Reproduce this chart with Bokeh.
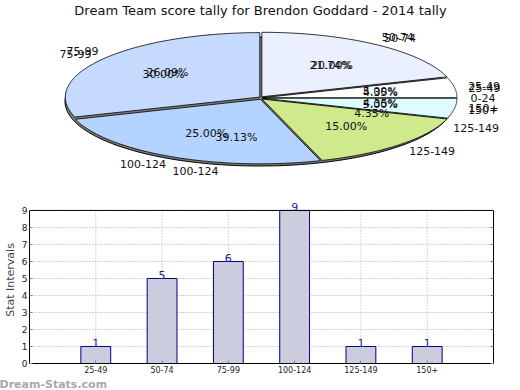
import numpy as np
from bokeh.plotting import figure
from bokeh.models import Range1d, ColumnDataSource, LinearAxis, FixedTicker, Label, LabelSet, Span, Title
from bokeh.layouts import column
from bokeh.embed import file_html
from bokeh.resources import INLINE
from bokeh.core.properties import value

# ---------------- data ----------------
chart_title = "Dream Team score tally for Brendon Goddard - 2014 tally"
pie_categories = ["0-24", "25-49", "50-74", "75-99", "100-124", "125-149", "150+"]
pie_front_percent = [0, 5, 20, 30, 25, 15, 5]      # series drawn on top
pie_back_counts = [0, 1, 5, 6, 9, 1, 1]            # series whose labels show through
pie_colors = ["#ffffff", "#ffffff", "#eaf0ff", "#c6d9ff", "#b5d3ff", "#d0e98d", "#dcfcff"]

bar_categories = ["25-49", "50-74", "75-99", "100-124", "125-149", "150+"]
bar_counts = [1, 5, 6, 9, 1, 1]
y_ticks = [0, 1, 2, 3, 4, 5, 6, 7, 8, 9]

FN = "DejaVu Sans"
FONT = value(FN)

# ---------------- pie (top) ----------------
W = 520
H1 = 192
H2 = 390 - H1
pie = figure(width=W, height=H1, x_range=Range1d(0, W), y_range=Range1d(H1, 0),
             output_backend="svg", toolbar_location=None, min_border=0,
             x_axis_location=None, y_axis_location=None)
pie.grid.visible = False
pie.outline_line_color = None
pie.background_fill_color = "white"
pie.frame_align = False

CX, CY, RX, RY = 260.5, 97.5, 194.5, 64.5
EXP = 1.5

pie.text(x=[W / 2], y=[10], text=[chart_title], text_align="center",
         text_baseline="middle", text_font_size="13px", text_font=FONT, text_color="#111111")

# 3D rim
t = np.radians(np.linspace(0, 360, 241))
pie.patch(CX - 1.5 + RX * np.cos(t), CY + 3.5 - RY * np.sin(t), fill_color="#7a7a7a",
          line_color="black", line_width=1)


def slice_geometry(values):
    vals = np.asarray(values, dtype=float)
    pct = vals / vals.sum() * 100.0
    ends = np.cumsum(pct) * 3.6
    starts = ends - pct * 3.6
    return pct, starts, ends


pct_f, st_f, en_f = slice_geometry(pie_front_percent)
xs_list, ys_list, cols = [], [], []
for i in range(len(pie_categories)):
    if pct_f[i] <= 0:
        continue
    mid = np.radians((st_f[i] + en_f[i]) / 2)
    ox, oy = EXP * np.cos(mid), -EXP * np.sin(mid)
    tt = np.radians(np.linspace(st_f[i], en_f[i], 80))
    xs_list.append(np.concatenate([[CX + ox], CX + ox + RX * np.cos(tt)]))
    ys_list.append(np.concatenate([[CY + oy], CY + oy - RY * np.sin(tt)]))
    cols.append(pie_colors[i])
pie.patches(xs_list, ys_list, fill_color=cols, line_color="black", line_width=0.8)


def add_pie_labels(values, skip_zero_cat):
    pct, st, en = slice_geometry(values)
    for i, cat in enumerate(pie_categories):
        mid = np.radians((st[i] + en[i]) / 2)
        c, s = np.cos(mid), np.sin(mid)
        if values[i] > 0:
            pie.text(x=[CX + 0.62 * RX * c], y=[CY - 0.62 * RY * s], text=["%.2f%%" % pct[i]],
                     text_align="center", text_baseline="middle", text_font_size="11px",
                     text_font=FONT, text_color="#111111")
        if values[i] == 0 and skip_zero_cat:
            continue
        align = "left" if c > 0.05 else ("right" if c < -0.05 else "center")
        pie.text(x=[CX + (RX + 15) * c], y=[CY - (RY + 10) * s], text=[cat],
                 text_align=align, text_baseline="middle", text_font_size="11px",
                 text_font=FONT, text_color="#111111")


add_pie_labels(pie_back_counts, True)
add_pie_labels(pie_front_percent, False)

# ---------------- bars (bottom) ----------------
xs = list(range(1, len(bar_categories) + 1))
y_top = y_ticks[-1]
bar = figure(width=W, height=H2, x_range=Range1d(0, len(bar_categories) + 1),
             y_range=Range1d(y_ticks[0], y_top + 0.82),
             output_backend="svg", toolbar_location=None,
             min_border_top=4, min_border_right=27, min_border_left=25, min_border_bottom=0)
bar.outline_line_color = None
bar.xgrid.visible = False
bar.frame_align = False

src = ColumnDataSource(dict(x=xs, top=bar_counts, lab=[str(v) for v in bar_counts], cat=bar_categories))

# vertical dotted grid up to the top of the value axis
bar.segment(x0=xs, y0=[y_ticks[0]] * len(xs), x1=xs, y1=[y_top] * len(xs),
            line_color="#aaaaaa", line_dash="1 2", line_width=1)

bar.vbar(x="x", top="top", width=0.45, source=src, fill_color="#ccccdf",
         line_color="#000080", line_width=1)

bar.add_layout(LabelSet(x="x", y="top", text="lab", source=src, text_align="center",
                        text_baseline="bottom", text_font_size="11px", text_font=FONT,
                        text_color="#1c1ca0", y_offset=-1))

bar.ygrid.grid_line_color = "#aaaaaa"
bar.ygrid.grid_line_dash = "1 2"
bar.ygrid.ticker = FixedTicker(ticks=y_ticks)
bar.add_layout(Span(location=y_top, dimension="width", line_color="black", line_width=1))

bar.xaxis.ticker = FixedTicker(ticks=xs)
bar.yaxis.ticker = FixedTicker(ticks=y_ticks)
bar.yaxis.bounds = (y_ticks[0], y_top)
bar.xaxis.major_label_overrides = {x: c for x, c in zip(xs, bar_categories)}

for ax in (bar.xaxis[0], bar.yaxis[0]):
    ax.major_tick_in = 3
    ax.major_tick_out = 0
    ax.minor_tick_line_color = None
    ax.axis_line_color = "black"
    ax.major_tick_line_color = "#888888"
    ax.major_label_text_font = FN
    ax.major_label_text_color = "#222222"
bar.xaxis.major_label_text_font_size = "8px"
bar.yaxis.major_label_text_font_size = "9px"
bar.xaxis.major_label_standoff = 2
bar.yaxis.major_label_standoff = 2
bar.yaxis.axis_label = "Stat Intervals"
bar.yaxis.axis_label_text_font = FN
bar.yaxis.axis_label_text_font_size = "11px"
bar.yaxis.axis_label_text_font_style = "normal"
bar.yaxis.axis_label_standoff = 2

rax = LinearAxis(ticker=FixedTicker(ticks=y_ticks), major_tick_in=3, major_tick_out=0,
                 minor_tick_line_color=None, major_label_text_color=None,
                 major_label_standoff=0, axis_line_color="black", major_tick_line_color="#888888",
                 bounds=(y_ticks[0], y_top))
bar.add_layout(rax, "right")

# watermark as a bottom title at the left edge
bar.add_layout(Title(text="Dream-Stats.com", align="left", offset=-30, standoff=0,
                     text_font_size="11px", text_font=FN, text_font_style="bold",
                     text_color="#a8a8a8"), "below")

bar.add_layout(Label(x=215, y=-22, x_units="screen", y_units="screen", text="Frequency",
                     text_align="center", text_baseline="middle", text_font_size="11px",
                     text_font=FN, text_color="#111111", level="overlay"))

layout = column(pie, bar, spacing=0)
open("out.html", "w").write(file_html(layout, INLINE))
